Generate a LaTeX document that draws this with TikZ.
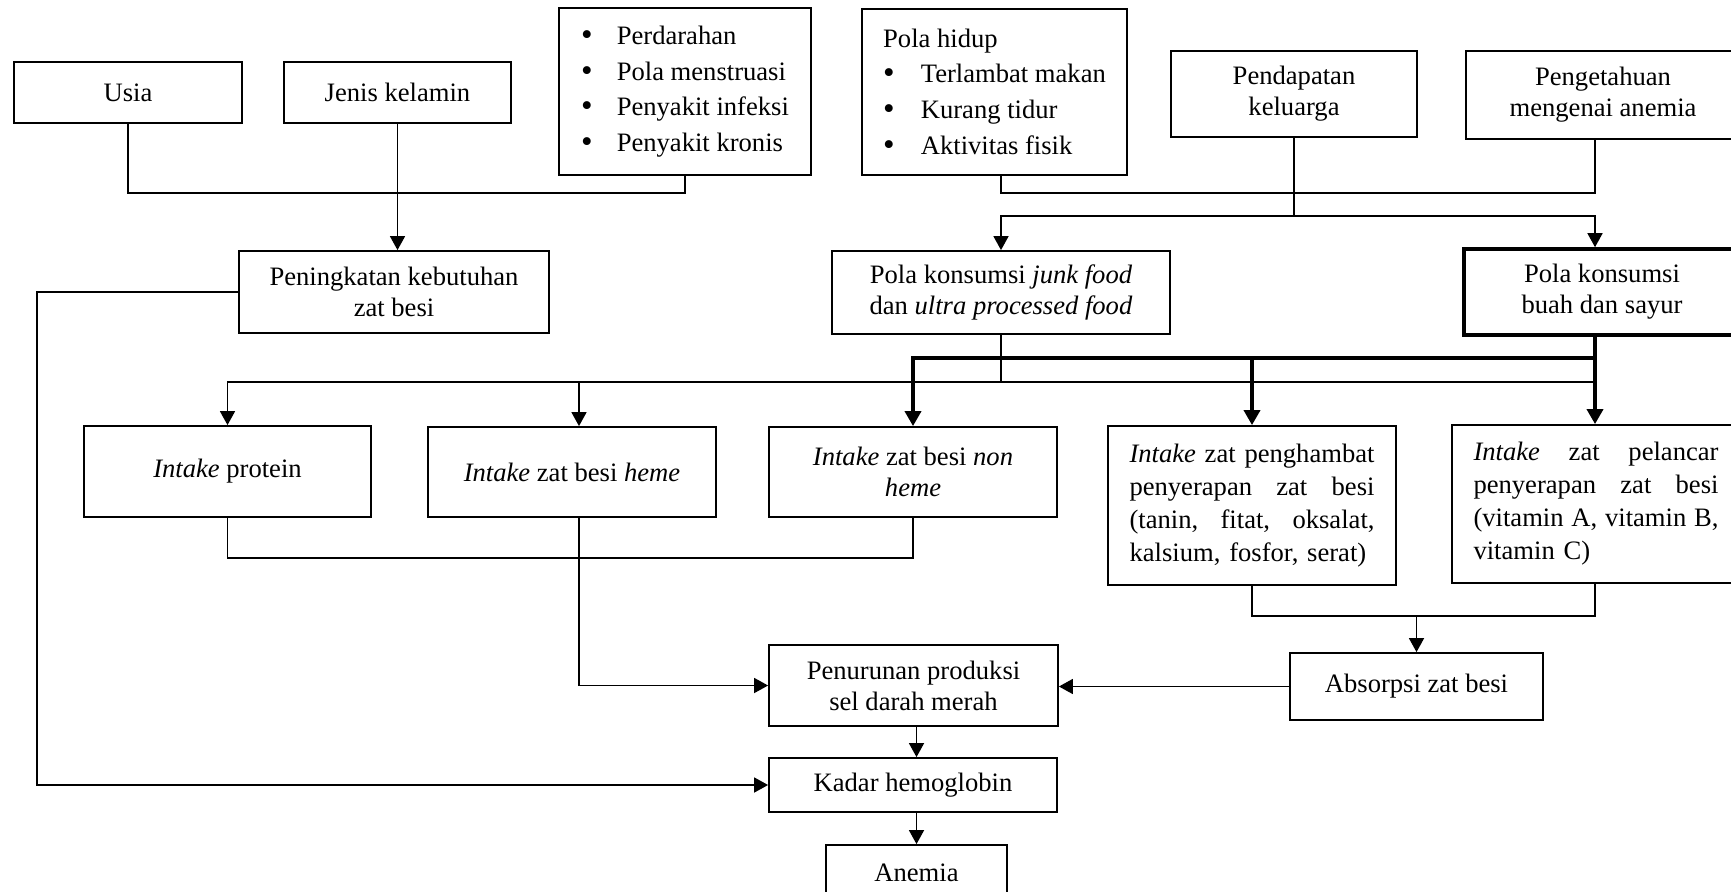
\documentclass[tikz,border=0pt]{standalone}
\usepackage{fontspec}
\setmainfont{Liberation Serif}
\usetikzlibrary{arrows.meta}
\newcommand\fsz{\fontsize{26.6}{31}\selectfont}
\newcommand\fszl{\fontsize{26.6}{35.7}\selectfont}
\newcommand\fszj{\fontsize{26.6}{33}\selectfont}
\newcommand\jl[1]{\makebox[245pt][s]{\spaceskip=0.25em plus 10em\xspaceskip=0.25em plus 10em\relax #1}}
\newcommand\bul[1]{\makebox[#1][l]{\raisebox{-1.2pt}{\fontsize{33}{0}\selectfont •}}}
\begin{document}
\begin{tikzpicture}[x=1pt,y=-1pt,
  box/.style={draw, line width=1.8pt, inner sep=0pt, align=center, font=\fsz},
  listbox/.style={box, align=left, font=\fszl},
  jbox/.style={box, align=left, text width=245pt, font=\fszj},
  conn/.style={line width=1.6pt},
  arr/.style={conn, -{Triangle[length=14pt,width=15pt]}},
  heavy/.style={line width=3.6pt},
  harr/.style={heavy, -{Triangle[length=15pt,width=16pt]}}]
\useasboundingbox (0,0) rectangle (1731,891);
\clip (0,0) rectangle (1731,891);

% junction coordinates
\coordinate (yA) at (0,193);
\coordinate (yB) at (0,216);
\coordinate (yC) at (0,358);
\coordinate (yD) at (0,382);
\coordinate (yE) at (0,558);
\coordinate (yF) at (0,616);
\coordinate (xL) at (37,0);
\coordinate (xR) at (1595,0);
\coordinate (xH) at (579,0);

% top row
\node[box, minimum width=228pt, minimum height=61pt] (usia) at (128,92.5) {Usia};
\node[box, minimum width=227pt, minimum height=61pt] (jenis) at (397.5,92.5) {Jenis kelamin};
\node[listbox, minimum width=252pt, minimum height=167pt] (perd) at (685,91.5)
  {\bul{35.7pt}Perdarahan\\
   \bul{35.7pt}Pola menstruasi\\
   \bul{35.7pt}Penyakit infeksi\\
   \bul{35.7pt}Penyakit kronis};
\node[listbox, minimum width=265pt, minimum height=166pt] (ph) at (994.5,92)
  {Pola hidup\\
   \bul{37.7pt}Terlambat makan\\
   \bul{37.7pt}Kurang tidur\\
   \bul{37.7pt}Aktivitas fisik};
\node[box, minimum width=246pt, minimum height=86pt] (pend) at (1294,94) {Pendapatan\\keluarga};
\node[box, minimum width=274pt, minimum height=88pt] (peng) at (1603,95) {Pengetahuan\\mengenai anemia};

% second row
\node[box, minimum width=310pt, minimum height=82pt] (pen) at (394,292) {Peningkatan kebutuhan\\zat besi};
\node[box, minimum width=338pt, minimum height=83pt] (junk) at (1001,292.5)
  {Pola konsumsi \textit{junk food}\\dan \textit{ultra processed food}};
\node[box, line width=3.6pt, minimum width=276pt, minimum height=86pt] (buah) at (1602,292)
  {Pola konsumsi\\buah dan sayur};

% intake row
\node[box, minimum width=287pt, minimum height=91pt] (prot) at (227.5,471.5) {\textit{Intake} protein};
\node[box, minimum width=288pt, minimum height=90pt] (heme) at (572,472) {\textit{Intake} zat besi \textit{heme}};
\node[box, minimum width=288pt, minimum height=90pt] (nheme) at (913,472) {\textit{Intake} zat besi \textit{non}\\\textit{heme}};
\node[jbox, minimum width=288pt, minimum height=159pt] (hamb) at (1252,505.5)
  {\jl{\textit{Intake} zat penghambat}\\
   \jl{penyerapan zat besi}\\
   \jl{(tanin, fitat, oksalat,}\\
   kalsium, fosfor, serat)};
\node[jbox, minimum width=288pt, minimum height=158pt] (lanc) at (1596,504)
  {\jl{\textit{Intake} zat pelancar}\\
   \jl{penyerapan zat besi}\\
   \jl{(vitamin A, vitamin B,}\\
   vitamin C)};

% lower part
\node[box, minimum width=253pt, minimum height=67pt] (abs) at (1416.5,686.5) {Absorpsi zat besi};
\node[box, minimum width=289pt, minimum height=81pt] (turun) at (913.5,685.5) {Penurunan produksi\\sel darah merah};
\node[box, minimum width=288pt, minimum height=54pt] (kadar) at (913,785) {Kadar hemoglobin};
\node[box, minimum width=181pt, minimum height=56pt] (anemia) at (916.5,873) {Anemia};

% connectors: top
\draw[conn] (usia.south) -- (usia.south |- yA) -- (perd.south |- yA) -- (perd.south);
\draw[arr] (jenis.south) -- (jenis.south |- pen.north);
\draw[conn] (ph.south -| junk.north) -- (junk.north |- yA) -- (xR |- yA) -- (xR |- peng.south);
\draw[arr] (pend.south) -- (pend.south |- yB) -| (junk.north);
\draw[arr] (pend.south |- yB) -| (xR |- buah.north);

% thin distribution from junk food
\draw[conn] (junk.south) -- (junk.south |- yD) -- (xR |- yD);
\draw[arr] (junk.south |- yD) -| (prot.north);
\draw[arr] (xH |- yD) -- (xH |- heme.north);

% thick distribution from buah dan sayur
\draw[harr] (xR |- buah.south) -- (xR |- lanc.north);
\draw[harr] (xR |- yC) -| (nheme.north);
\draw[harr] (hamb.north |- yC) -- (hamb.north);

% intake row outputs
\draw[conn] (prot.south) -- (prot.south |- yE) -| (nheme.south);
\draw[arr] (xH |- heme.south) |- (turun.west);
\draw[conn] (hamb.south) -- (hamb.south |- yF) -| (xR |- lanc.south);
\draw[arr] (abs.north |- yF) -- (abs.north);
\draw[arr] (abs.west) -- (turun.east |- abs.west);

% bottom chain
\draw[arr] (turun.south -| anemia.north) -- (kadar.north -| anemia.north);
\draw[arr] (kadar.south -| anemia.north) -- (anemia.north);
\draw[arr] (pen.west) -- (xL |- pen.west) -- (xL |- kadar.west) -- (kadar.west);
\end{tikzpicture}
\end{document}
